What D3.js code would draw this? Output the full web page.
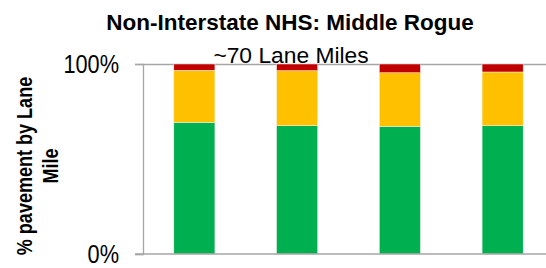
<!DOCTYPE html>
<html>
<head>
<meta charset="utf-8">
<script src="https://cdn.jsdelivr.net/npm/d3@7"></script>
<style>
  body { margin: 0; background: #fff; }
  svg { display: block; }
  text { font-family: "Liberation Sans", Arial, sans-serif; }
</style>
</head>
<body>
<div class="chart"></div>
<script>
// categories (no labels shown on the chart)
var categories = ["A", "B", "C", "D"];
// % of lane miles in each condition
var good = [0.693, 0.675, 0.672, 0.675];
var fair = [0.274, 0.290, 0.282, 0.283];
var poor = [0.033, 0.035, 0.046, 0.042];
var yTicks = [0, 1];

var svgWidth = 546;
var svgHeight = 268;
var narrow = 0.82; // squeeze for an Arial Narrow look

var margin = { top: 64, left: 143, bottom: 14 };
var plotRight = 554;
var height = svgHeight - margin.top - margin.bottom;

var svg = d3.select(".chart")
    .append("svg")
    .attr("width", svgWidth)
    .attr("height", svgHeight);

var rows = categories.map(function (c, i) {
    return { cat: c, good: good[i], fair: fair[i], poor: poor[i] };
});

var stack = d3.stack().keys(["good", "fair", "poor"]);
var series = stack(rows);
var colors = { good: "#00B050", fair: "#FFC000", poor: "#C00000" };

var xScale = d3.scaleBand()
    .domain(categories)
    .range([margin.left, plotRight])
    .paddingInner(0.6)
    .paddingOuter(0.3);

var yScale = d3.scaleLinear()
    .domain([0, 1])
    .range([margin.top + height, margin.top]);

// gridline at 100%
svg.append("g")
    .attr("transform", `translate(${margin.left}, 0)`)
    .call(d3.axisRight(yScale).tickValues([1]).tickSize(svgWidth - margin.left).tickFormat(""))
    .call(g => g.select(".domain").remove())
    .selectAll("line")
    .attr("stroke", "#a6a6a6")
    .attr("stroke-width", 1.3);

// bars
svg.append("g")
    .selectAll("g")
    .data(series)
    .enter()
    .append("g")
    .attr("fill", d => colors[d.key])
    .selectAll("rect")
    .data(d => d)
    .enter()
    .append("rect")
    .attr("x", d => xScale(d.data.cat))
    .attr("width", xScale.bandwidth())
    .attr("y", d => yScale(d[1]))
    .attr("height", d => yScale(d[0]) - yScale(d[1]))
    .attr("stroke", "#f4f4ee")
    .attr("stroke-width", 0.5);

// left axis
var leftAxis = d3.axisLeft(yScale)
    .tickValues(yTicks)
    .tickSize(8)
    .tickPadding(16)
    .tickFormat(d3.format(".0%"));

var yAxisG = svg.append("g")
    .attr("transform", `translate(${margin.left}, 0)`)
    .call(leftAxis)
    .attr("font-family", null)
    .attr("font-size", null);
yAxisG.select(".domain")
    .attr("stroke", "#a6a6a6")
    .attr("stroke-width", 1.3);
yAxisG.selectAll("line")
    .attr("stroke", "#a6a6a6")
    .attr("stroke-width", 1.3);
yAxisG.selectAll("text")
    .attr("x", -24 / narrow)
    .attr("transform", `scale(${narrow}, 1)`)
    .attr("font-size", "26.5px")
    .attr("fill", "#000");

// baseline
svg.append("line")
    .attr("x1", margin.left - 8)
    .attr("x2", svgWidth)
    .attr("y1", yScale(0))
    .attr("y2", yScale(0))
    .attr("stroke", "#a6a6a6")
    .attr("stroke-width", 1.5);

// titles
svg.append("text")
    .attr("x", 290)
    .attr("y", 29.5)
    .attr("text-anchor", "middle")
    .attr("font-weight", "bold")
    .attr("font-size", "22.5px")
    .text("Non-Interstate NHS: Middle Rogue");

svg.append("text")
    .attr("x", 291)
    .attr("y", 63)
    .attr("text-anchor", "middle")
    .attr("font-size", "22.8px")
    .text("~70 Lane Miles");

var yTitle = svg.append("text")
    .attr("transform", `translate(0, 166) rotate(-90) scale(${narrow}, 1)`)
    .attr("text-anchor", "middle")
    .attr("font-weight", "bold")
    .attr("font-size", "22px");
yTitle.append("tspan").attr("x", 0).attr("y", 32).text("% pavement by Lane");
yTitle.append("tspan").attr("x", 0).attr("y", 58).text("Mile");
</script>
</body>
</html>
